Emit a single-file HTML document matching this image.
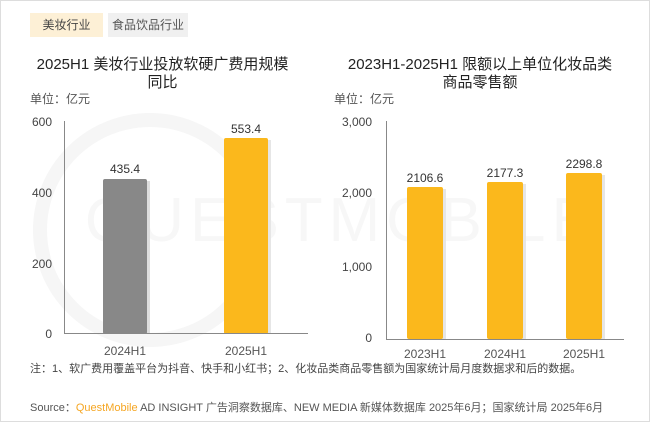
<!DOCTYPE html>
<html><head><meta charset="utf-8"><style>
body{margin:0;width:650px;height:422px;background:#fff;overflow:hidden;font-family:"Liberation Sans","Noto Sans CJK SC",sans-serif;position:relative}
.a{position:absolute;white-space:nowrap}
</style></head><body>
<div class="a" style="left:0;top:0;width:648px;height:420px;border:1px solid #ddd"></div>
<div class="a" style="left:30px;top:13px;width:73px;height:24px;background:#fdf0d6;font-size:12px;color:#444;line-height:24px;text-align:center">美妆行业</div>
<div class="a" style="left:108px;top:13px;width:80px;height:24px;background:#f0f0f0;font-size:12px;color:#555;line-height:24px;text-align:center">食品饮品行业</div>
<div class="a" style="left:0;top:0;width:650px;height:422px;overflow:hidden"><div class="a" style="left:85px;top:185px;font-size:62px;color:#f7f7f7;letter-spacing:6px">QUESTMOBILE</div></div>
<div class="a" style="left:20px;top:56px;width:285px;text-align:center;font-size:15px;color:#222;line-height:18px;white-space:normal">2025H1 美妆行业投放软硬广费用规模<br>同比</div>
<div class="a" style="left:330px;top:56px;width:300px;text-align:center;font-size:15px;color:#222;line-height:18px;white-space:normal">2023H1-2025H1 限额以上单位化妆品类<br>商品零售额</div>
<div class="a" style="left:30px;top:90px;font-size:12px;color:#555">单位：亿元</div>
<div class="a" style="left:334px;top:90px;font-size:12px;color:#555">单位：亿元</div>
<svg class="a" style="left:0;top:0" width="650" height="422" font-family="Liberation Sans" font-size="12" fill="#444">
<circle cx="150" cy="230" r="110" fill="none" stroke="#f6f6f6" stroke-width="14"/>
<g text-anchor="end"><text x="52" y="126">600</text><text x="52" y="197">400</text><text x="52" y="268">200</text><text x="52" y="338">0</text>
<text x="372" y="126">3,000</text><text x="372" y="197">2,000</text><text x="372" y="271">1,000</text><text x="372" y="342">0</text></g>
<rect x="106" y="181" width="44" height="153" fill="#ddd"/><rect x="103" y="179" width="44" height="155" rx="2" fill="#888"/>
<rect x="227" y="140" width="44" height="194" fill="#e6e6e6"/><rect x="224" y="138" width="44" height="196" rx="2" fill="#fbb81c"/>
<rect x="410" y="189" width="36" height="150" fill="#e6e6e6"/><rect x="407" y="187" width="36" height="152" rx="2" fill="#fbb81c"/>
<rect x="490" y="184" width="36" height="155" fill="#e6e6e6"/><rect x="487" y="182" width="36" height="157" rx="2" fill="#fbb81c"/>
<rect x="569" y="175" width="36" height="164" fill="#e6e6e6"/><rect x="566" y="173" width="36" height="166" rx="2" fill="#fbb81c"/>
<line x1="64.5" y1="121" x2="64.5" y2="334" stroke="#888"/><line x1="64" y1="333.5" x2="308" y2="333.5" stroke="#888"/>
<line x1="386.5" y1="121" x2="386.5" y2="340" stroke="#888"/><line x1="386" y1="339.5" x2="624" y2="339.5" stroke="#888"/>
<g text-anchor="middle" fill="#333"><text x="125" y="173">435.4</text><text x="246" y="133">553.4</text>
<text x="425" y="182">2106.6</text><text x="505" y="177">2177.3</text><text x="584" y="168">2298.8</text></g>
<g text-anchor="middle" fill="#555"><text x="125" y="355">2024H1</text><text x="246" y="355">2025H1</text>
<text x="425" y="358">2023H1</text><text x="505" y="358">2024H1</text><text x="584" y="358">2025H1</text></g>
</svg>
<div class="a" style="left:30px;top:360px;font-size:11px;color:#444">注：1、软广费用覆盖平台为抖音、快手和小红书；2、化妆品类商品零售额为国家统计局月度数据求和后的数据。</div>
<div class="a" style="left:30px;top:399px;font-size:11px;color:#555">Source：<span style="color:#f5a623">QuestMobile</span> AD INSIGHT 广告洞察数据库、NEW MEDIA 新媒体数据库 2025年6月；国家统计局 2025年6月</div>
</body></html>
